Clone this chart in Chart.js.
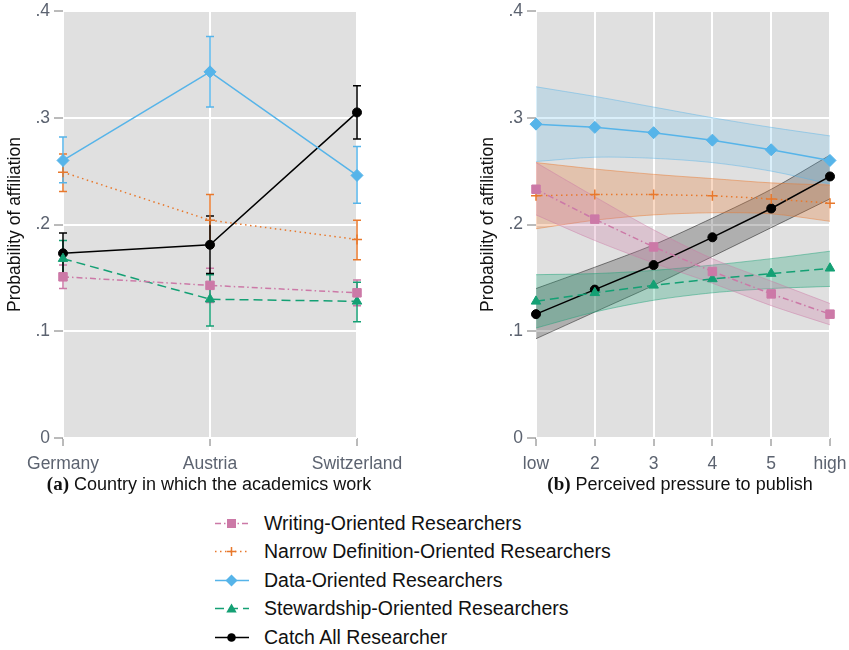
<!DOCTYPE html>
<html>
<head>
<meta charset="utf-8">
<script src="https://cdn.jsdelivr.net/npm/chart.js@4.4.1/dist/chart.umd.min.js"></script>
<style>
  body { margin: 0; background: #fff; font-family: "Liberation Sans", Arial, sans-serif; }
  #wrap { position: relative; width: 849px; height: 650px; }
  #ca { position: absolute; left: 0; top: 0; }
  #cb { position: absolute; left: 420px; top: 0; }
  .xtitle { position: absolute; top: 473px; font-size: 18px; line-height: 22px; color: #111; white-space: nowrap; transform: translateX(-50%); }
  .xtitle b { font-family: "Liberation Serif", "Times New Roman", serif; font-size: 19px; }
  #legend { position: absolute; left: 214px; top: 509px; }
  .item { height: 28.5px; display: flex; align-items: center; font-size: 19.5px; color: #111; }
  .item svg { margin-right: 12px; }
</style>
</head>
<body>
<div id="wrap">
  <canvas id="ca" width="420" height="500"></canvas>
  <canvas id="cb" width="429" height="500"></canvas>
  <div class="xtitle" style="left:209px"><b>(a)</b> Country in which the academics work</div>
  <div class="xtitle" style="left:680px"><b>(b)</b> Perceived pressure to publish</div>
  <div id="legend"></div>
</div>
<script>
// panel (a): country
const countries = ['Germany', 'Austria', 'Switzerland'];
const writingA = [0.151, 0.143, 0.136];
const writingALo = [0.140, 0.127, 0.124];
const writingAHi = [0.162, 0.159, 0.148];
const narrowA = [0.249, 0.204, 0.186];
const narrowALo = [0.231, 0.179, 0.167];
const narrowAHi = [0.266, 0.228, 0.204];
const dataA = [0.260, 0.343, 0.246];
const dataALo = [0.239, 0.310, 0.220];
const dataAHi = [0.282, 0.376, 0.273];
const stewA = [0.168, 0.130, 0.128];
const stewALo = [0.151, 0.105, 0.109];
const stewAHi = [0.185, 0.153, 0.146];
const catchA = [0.173, 0.181, 0.305];
const catchALo = [0.154, 0.154, 0.280];
const catchAHi = [0.192, 0.208, 0.330];

// panel (b): pressure to publish
const pressure = ['low', '2', '3', '4', '5', 'high'];
const writingB = [0.233, 0.205, 0.179, 0.156, 0.135, 0.116];
const writingBLo = [0.209, 0.185, 0.164, 0.145, 0.124, 0.106];
const writingBHi = [0.258, 0.226, 0.195, 0.168, 0.147, 0.126];
const narrowB = [0.227, 0.228, 0.228, 0.227, 0.224, 0.220];
const narrowBLo = [0.196, 0.204, 0.209, 0.211, 0.210, 0.203];
const narrowBHi = [0.258, 0.252, 0.247, 0.243, 0.239, 0.237];
const dataB = [0.294, 0.291, 0.286, 0.279, 0.270, 0.260];
const dataBLo = [0.259, 0.263, 0.262, 0.258, 0.250, 0.238];
const dataBHi = [0.329, 0.320, 0.310, 0.300, 0.291, 0.283];
const stewB = [0.128, 0.136, 0.143, 0.149, 0.154, 0.159];
const stewBLo = [0.103, 0.118, 0.129, 0.136, 0.140, 0.142];
const stewBHi = [0.153, 0.154, 0.157, 0.162, 0.168, 0.175];
const catchB = [0.116, 0.139, 0.162, 0.188, 0.215, 0.245];
const catchBLo = [0.093, 0.118, 0.143, 0.170, 0.197, 0.224];
const catchBHi = [0.140, 0.160, 0.181, 0.206, 0.233, 0.265];

const yTicks = [0, 0.1, 0.2, 0.3, 0.4];
const yTickLabels = ['0', '.1', '.2', '.3', '.4'];

// line styles per group
const groups = [
  { label: 'Writing-Oriented Researchers', color: '#cc79a7', band: 'rgba(204,121,167,0.28)', point: 'rect', radius: 6, dash: [6, 3, 1.5, 3] },
  { label: 'Narrow Definition-Oriented Researchers', color: '#e8782c', band: 'rgba(232,120,44,0.28)', point: 'cross', radius: 5, dash: [1.5, 3.5] },
  { label: 'Data-Oriented Researchers', color: '#56b4e9', band: 'rgba(86,180,233,0.22)', point: 'rectRot', radius: 6, dash: [] },
  { label: 'Stewardship-Oriented Researchers', color: '#14a074', band: 'rgba(20,160,116,0.28)', point: 'triangle', radius: 5.5, dash: [9, 5] },
  { label: 'Catch All Researcher', color: '#000000', band: 'rgba(0,0,0,0.22)', point: 'circle', radius: 4.5, dash: [] }
];

const tickFont = { family: '"Liberation Sans", Arial, sans-serif', size: 17.5 };

const plotBg = {
  id: 'plotBg',
  beforeDraw(chart) {
    const { ctx, chartArea: a } = chart;
    ctx.save();
    ctx.fillStyle = '#e0e0e0';
    ctx.fillRect(a.left, a.top, a.right - a.left, a.bottom - a.top);
    ctx.restore();
  }
};

// vertical whiskers with caps for panel (a)
const errorBars = {
  id: 'errorBars',
  beforeDatasetsDraw(chart) {
    const { ctx, scales: { x, y } } = chart;
    chart.data.datasets.forEach(ds => {
      if (!ds.lo) return;
      ctx.save();
      ctx.strokeStyle = ds.borderColor;
      ctx.lineWidth = 1.5;
      ds.lo.forEach((lo, j) => {
        const px = x.getPixelForValue(j);
        const y1 = y.getPixelForValue(lo);
        const y2 = y.getPixelForValue(ds.hi[j]);
        ctx.beginPath();
        ctx.moveTo(px, y1); ctx.lineTo(px, y2);
        ctx.moveTo(px - 4, y1); ctx.lineTo(px + 4, y1);
        ctx.moveTo(px - 4, y2); ctx.lineTo(px + 4, y2);
        ctx.stroke();
      });
      ctx.restore();
    });
  }
};

function lineSet(g, values) {
  return {
    label: g.label,
    data: values,
    borderColor: g.color,
    backgroundColor: g.color,
    borderWidth: 1.5,
    borderDash: g.dash,
    pointStyle: g.point,
    pointRadius: g.radius,
    pointBorderWidth: g.point === 'cross' ? 1.5 : 1,
    pointBackgroundColor: g.color,
    pointBorderColor: g.color,
    fill: false,
    tension: 0,
    clip: false,
    order: 0
  };
}

function scales(labels) {
  return {
    x: {
      type: 'category',
      labels: labels,
      offset: false,
      border: { display: false },
      grid: { color: '#ffffff', lineWidth: 2, tickColor: '#777', tickLength: 8, tickWidth: 1 },
      ticks: { font: tickFont, color: '#5c6370', padding: 8, maxRotation: 0, autoSkip: false },
      afterFit(s) { s.height = 62; s.paddingLeft = 0; s.paddingRight = 0; }
    },
    y: {
      min: 0,
      max: 0.4,
      border: { display: false },
      grid: { color: '#ffffff', lineWidth: 2, tickColor: '#777', tickLength: 9, tickWidth: 1 },
      ticks: {
        font: tickFont, color: '#5c6370', padding: 4,
        stepSize: 0.1,
        callback: v => yTickLabels[yTicks.findIndex(t => Math.abs(t - v) < 1e-6)]
      },
      afterBuildTicks(s) { s.ticks = yTicks.map(v => ({ value: v })); },
      title: {
        display: true, text: 'Probability of affiliation', color: '#111',
        font: { family: '"Liberation Sans", Arial, sans-serif', size: 17.5 },
        padding: { top: 5, bottom: 0 }
      },
      afterFit(s) { s.width = 63; s.paddingTop = 0; s.paddingBottom = 0; }
    }
  };
}

const commonOptions = {
  responsive: false,
  animation: false,
  plugins: { legend: { display: false }, tooltip: { enabled: false } }
};

// panel (a)
const valuesA = [writingA, narrowA, dataA, stewA, catchA];
const lowA = [writingALo, narrowALo, dataALo, stewALo, catchALo];
const highA = [writingAHi, narrowAHi, dataAHi, stewAHi, catchAHi];
const setsA = groups.map((g, i) => Object.assign(lineSet(g, valuesA[i]), { lo: lowA[i], hi: highA[i] }));

new Chart(document.getElementById('ca'), {
  type: 'line',
  data: { labels: countries, datasets: setsA },
  options: Object.assign({}, commonOptions, {
    layout: { padding: { left: 0, right: 63, top: 11, bottom: 0 } },
    scales: scales(countries)
  }),
  plugins: [plotBg, errorBars]
});

// panel (b)
const valuesB = [writingB, narrowB, dataB, stewB, catchB];
const lowB = [writingBLo, narrowBLo, dataBLo, stewBLo, catchBLo];
const highB = [writingBHi, narrowBHi, dataBHi, stewBHi, catchBHi];
const setsB = [];
groups.forEach((g, i) => setsB.push(lineSet(g, valuesB[i])));
groups.forEach((g, i) => {
  const edge = g.band.replace(/[\d.]+\)$/, '0.45)');
  setsB.push({
    label: g.label + ' upper', data: highB[i], borderColor: edge, borderWidth: 1,
    backgroundColor: g.band, pointRadius: 0, fill: '+1', tension: 0.3, order: 1
  });
  setsB.push({
    label: g.label + ' lower', data: lowB[i], borderColor: edge, borderWidth: 1,
    backgroundColor: g.band, pointRadius: 0, fill: false, tension: 0.3, order: 1
  });
});

new Chart(document.getElementById('cb'), {
  type: 'line',
  data: { labels: pressure, datasets: setsB },
  options: Object.assign({}, commonOptions, {
    layout: { padding: { left: 53, right: 19, top: 11, bottom: 0 } },
    scales: scales(pressure)
  }),
  plugins: [plotBg]
});

// legend
function symbol(g) {
  const dash = g.dash.length ? ` stroke-dasharray="${g.dash.join(' ')}"` : '';
  let m = '';
  const c = g.color;
  if (g.point === 'rect') m = `<rect x="13" y="4" width="9" height="9" fill="${c}"/>`;
  if (g.point === 'cross') m = `<path d="M13 8.5h9M17.5 4v9" stroke="${c}" stroke-width="1.5"/>`;
  if (g.point === 'rectRot') m = `<path d="M17.5 2.5l6 6-6 6-6-6z" fill="${c}"/>`;
  if (g.point === 'triangle') m = `<path d="M17.5 3.5l5.2 9h-10.4z" fill="${c}"/>`;
  if (g.point === 'circle') m = `<circle cx="17.5" cy="8.5" r="4.3" fill="${c}"/>`;
  return `<svg width="38" height="17"><line x1="1" y1="8.5" x2="35" y2="8.5" stroke="${c}" stroke-width="1.5"${dash}/>${m}</svg>`;
}
document.getElementById('legend').innerHTML = groups
  .map(g => `<div class="item">${symbol(g)}<span>${g.label}</span></div>`)
  .join('');
</script>
</body>
</html>
